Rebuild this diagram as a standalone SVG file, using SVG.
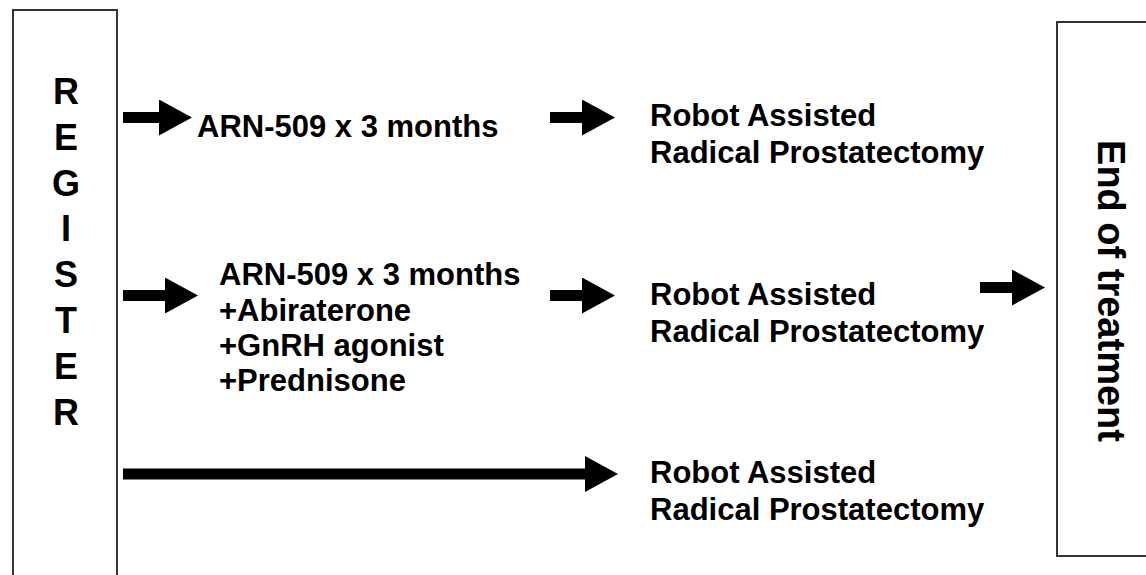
<svg xmlns="http://www.w3.org/2000/svg" width="1146" height="575" viewBox="0 0 1146 575">
  <style>
    .box { fill: #ffffff; stroke: #333333; stroke-width: 2; }
    .t { font-family: "Liberation Sans", Arial, sans-serif; font-weight: bold; fill: #000000; font-size: 31px; }
    .big { font-family: "Liberation Sans", Arial, sans-serif; font-weight: bold; fill: #000000; font-size: 38px; }
    .reg { font-family: "Liberation Sans", Arial, sans-serif; font-weight: bold; fill: #000000; font-size: 36px; }
    .arr { stroke: #000000; stroke-width: 11; fill: none; marker-end: url(#head); }
  </style>
  <defs>
    <marker id="head" viewBox="0 0 33 36" refX="0" refY="18" markerWidth="33" markerHeight="36" markerUnits="userSpaceOnUse" orient="auto">
      <path d="M0,0 L33,18 L0,36 Z" fill="#000000"/>
    </marker>
  </defs>
  <rect width="1146" height="575" fill="#ffffff"/>

  <g id="register">
    <rect class="box" x="13" y="10" width="104" height="600"/>
    <g class="reg" text-anchor="middle">
      <text x="66" y="104">R</text>
      <text x="66" y="150">E</text>
      <text x="66" y="196">G</text>
      <text x="66" y="241">I</text>
      <text x="66" y="287">S</text>
      <text x="66" y="333">T</text>
      <text x="66" y="379">E</text>
      <text x="66" y="425">R</text>
    </g>
  </g>

  <g id="end-of-treatment">
    <rect class="box" x="1057" y="22" width="130" height="534"/>
    <text class="big" text-anchor="middle" transform="translate(1098,291) rotate(90)">End of treatment</text>
  </g>

  <g id="arm1-drug">
    <text class="t" x="197" y="137">ARN-509 x 3 months</text>
  </g>
  <g id="arm1-surgery">
    <text class="t" x="650" y="126">Robot Assisted</text>
    <text class="t" x="650" y="163">Radical Prostatectomy</text>
  </g>

  <g id="arm2-drug">
    <text class="t" x="219" y="285">ARN-509 x 3 months</text>
    <text class="t" x="219" y="321">+Abiraterone</text>
    <text class="t" x="219" y="356">+GnRH agonist</text>
    <text class="t" x="219" y="391">+Prednisone</text>
  </g>
  <g id="arm2-surgery">
    <text class="t" x="650" y="305">Robot Assisted</text>
    <text class="t" x="650" y="342">Radical Prostatectomy</text>
  </g>

  <g id="arm3-surgery">
    <text class="t" x="650" y="483">Robot Assisted</text>
    <text class="t" x="650" y="520">Radical Prostatectomy</text>
  </g>

  <g id="connectors">
    <line class="arr" x1="123" y1="117.5" x2="159" y2="117.5"/>
    <line class="arr" x1="550" y1="117.5" x2="582" y2="117.5"/>
    <line class="arr" x1="123" y1="295.5" x2="165" y2="295.5"/>
    <line class="arr" x1="550" y1="295.5" x2="582" y2="295.5"/>
    <line class="arr" x1="980" y1="287.5" x2="1012" y2="287.5"/>
    <line class="arr" x1="123" y1="474" x2="585" y2="474"/>
  </g>
</svg>
